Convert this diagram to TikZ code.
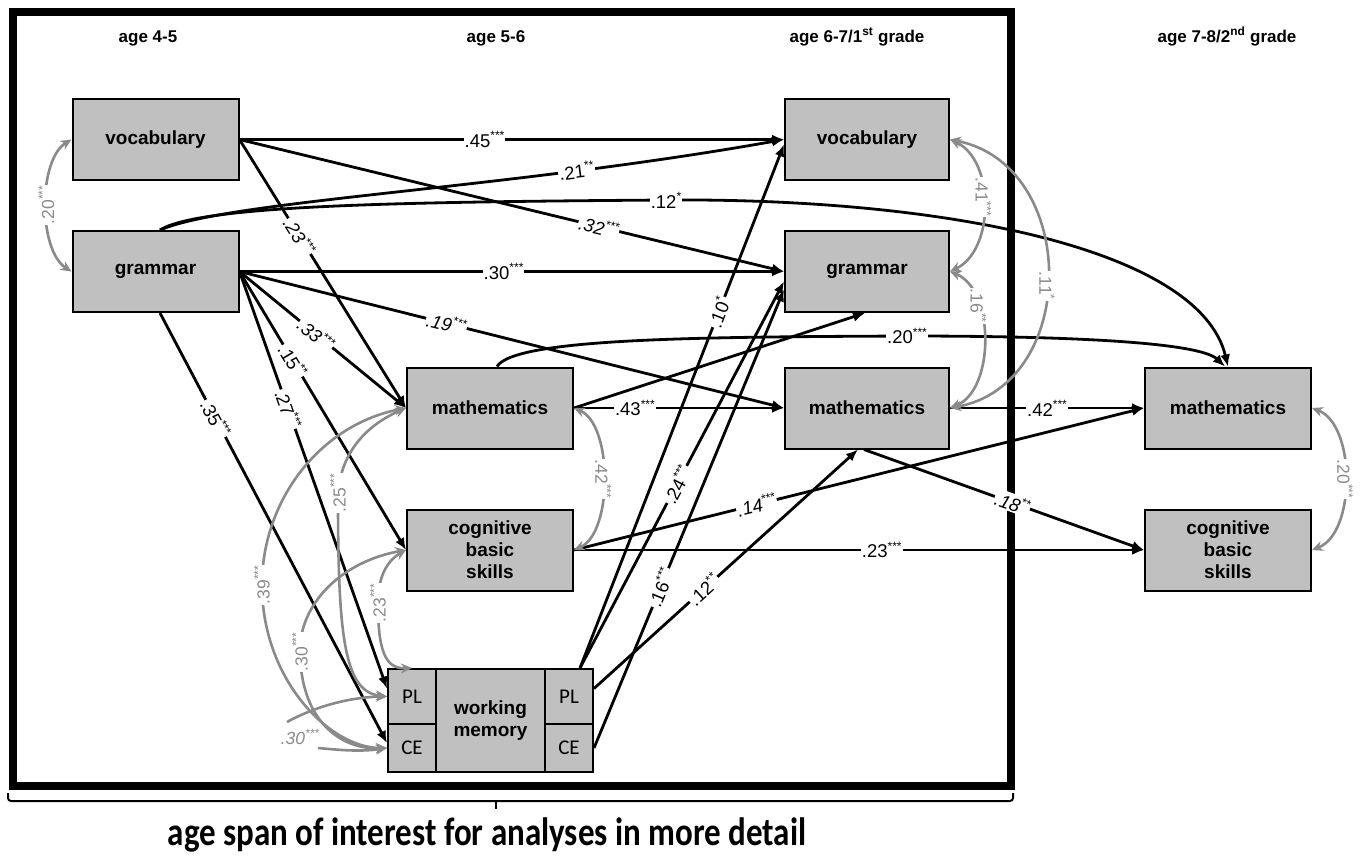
\documentclass[tikz,border=0pt]{standalone}
\usepackage{fontspec}
\setmainfont{Liberation Sans}
\newfontfamily\calfont{Carlito}
\usetikzlibrary{arrows.meta}
\definecolor{boxgray}{RGB}{192,192,192}
\definecolor{corrgray}{RGB}{138,138,138}
\newcommand\sig[1]{\raisebox{0.42em}{\fontsize{12}{12}\selectfont #1}}
\newcommand\boxfont{\fontsize{19}{22}\selectfont\bfseries}
\newcommand\hdfont{\fontsize{17}{20}\selectfont\bfseries}
\newcommand\labfont{\fontsize{18.5}{18.5}\selectfont}
\newcommand\glabfont{\fontsize{17.5}{17.5}\selectfont}
\begin{document}
\begin{tikzpicture}[x=1pt,y=-1pt,
  box/.style={draw=black, line width=2pt, fill=boxgray, minimum width=166pt, minimum height=81pt, inner sep=0pt, align=center, font=\boxfont},
  wmbox/.style={draw=black, line width=2pt, fill=boxgray, inner sep=0pt, font=\calfont\fontsize{21}{24}\selectfont},
  hd/.style={font=\hdfont, anchor=base, inner sep=0pt},
  blk/.style={draw=black, line width=2.8pt, -{Latex[length=12pt,width=10pt]}},
  gc/.style={draw=corrgray, line width=2.6pt, {Stealth[length=11pt,width=10pt]}-{Stealth[length=11pt,width=10pt]}},
  gc1/.style={draw=corrgray, line width=2.6pt, -{Stealth[length=11pt,width=10pt]}},
  lab/.style={fill=white, inner sep=1pt, font=\labfont, text=black},
  glab/.style={fill=white, inner sep=1pt, font=\glabfont, text=corrgray}]
\useasboundingbox (0,0) rectangle (1362,862);
\fill[white] (0,0) rectangle (1362,862);

% frame and brace
\draw[line width=8pt] (12.5,12) rectangle (1011,785.5);
\draw[line width=2pt, rounded corners=3pt] (8,793) -- (8,801) -- (1013,801) -- (1013,793);
\draw[line width=2pt] (496,801) -- (496,809);
\node[font=\calfont\fontsize{33}{36}\selectfont\bfseries, anchor=base] (span) at (487,845) {\scalebox{1}[1.2]{age span of interest for analyses in more detail}};

% headers
\node[hd] (h1) at (148,42) {age 4-5};
\node[hd] (h2) at (496,42) {age 5-6};
\node[hd] (h3) at (857,42) {age 6-7/1\textsuperscript{st} grade};
\node[hd] (h4) at (1227,42) {age 7-8/2\textsuperscript{nd} grade};

% boxes
\node[box] (v1) at (155.5,139.5) {vocabulary};
\node[box] (g1) at (155.5,271.5) {grammar};
\node[box] (m2) at (490,408) {mathematics};
\node[box] (c2) at (490,550) {cognitive\\basic\\skills};
\node[box, minimum width=164pt] (v3) at (867,139.5) {vocabulary};
\node[box, minimum width=164pt] (g3) at (867,271.5) {grammar};
\node[box, minimum width=164pt] (m3) at (867,408) {mathematics};
\node[box] (m4) at (1228,408) {mathematics};
\node[box] (c4) at (1228,550) {cognitive\\basic\\skills};

% working memory
\node[wmbox, minimum width=109pt, minimum height=103pt, font=\boxfont, align=center] (wm) at (490.5,720.5) {working\\memory};
\node[wmbox, minimum width=48pt, minimum height=55pt] (PLl) at (412,696.5) {PL};
\node[wmbox, minimum width=48pt, minimum height=48pt] (CEl) at (412,748) {CE};
\node[wmbox, minimum width=48pt, minimum height=55pt] (PLr) at (569,696.5) {PL};
\node[wmbox, minimum width=48pt, minimum height=48pt] (CEr) at (569,748) {CE};

% black paths from age 4-5
\draw[blk] (v1.east) -- node[lab, pos=.45] (n45) {.45\sig{***}} (v3.west);
\draw[blk] (v1.east) -- node[lab, sloped, pos=.66, font=\labfont\itshape] (n32) {.32\sig{***}} (g3.west);
\draw[blk] (v1.east) -- node[lab, sloped, pos=.36, font=\labfont\itshape] (n23a) {.23\sig{***}} (m2.west);
\draw[blk] ([xshift=4.5pt]g1.north) .. controls (230,200) and (500,190) .. (v3.west) node[lab, sloped, pos=.75] (n21) {.21\sig{**}};
\draw[blk] ([xshift=4.5pt]g1.north) .. controls (200,205) and (400,202) .. (666,200) .. controls (950,198) and (1200,250) .. (m4.north);
\node[lab] (n12a) at (666,200) {.12\sig{*}};
\draw[blk] (g1.east) -- node[lab, pos=.485] (n30) {.30\sig{***}} (g3.west);
\draw[blk] (g1.east) -- node[lab, sloped, pos=.38, font=\labfont\itshape] (n19) {.19\sig{***}} (m3.west);
\draw[blk] (g1.east) -- node[lab, sloped, pos=.46, font=\labfont\itshape] (n33) {.33\sig{***}} (m2.west);
\draw[blk] (g1.east) -- node[lab, sloped, pos=.32] (n15) {.15\sig{**}} (c2.west);
\draw[blk] (g1.east) -- node[lab, sloped, pos=.33] (n27) {.27\sig{***}} ([yshift=8pt]PLl.west);
\draw[blk] ([xshift=4.5pt]g1.south) -- node[lab, sloped, pos=.245] (n35) {.35\sig{***}} ([yshift=5pt]CEl.west);

% black paths from age 5-6
\draw[blk] (m2.east) -- ([xshift=-2pt]g3.south);
\draw[blk] ([xshift=7pt]m2.north) .. controls (515,338) and (700,337) .. (907,336) .. controls (1080,336) and (1200,343) .. ([xshift=-3pt]m4.north);
\node[lab] (n20) at (907,336) {.20\sig{***}};
\draw[blk] (m2.east) -- node[lab, pos=.29] (n43) {.43\sig{***}} (m3.west);
\draw[blk] (c2.east) -- node[lab, sloped, pos=.32, font=\labfont\itshape] (n14) {.14\sig{***}} (m4.west);
\draw[blk] (c2.east) -- node[lab, pos=.54] (n23b) {.23\sig{***}} (c4.west);
\draw[blk] ([xshift=11pt]PLr.north) -- node[lab, sloped, pos=.68] (n10) {.10\sig{*}} ([yshift=-5pt]v3.west);
\draw[blk] ([xshift=11pt]PLr.north) -- node[lab, sloped, pos=.475] (n24) {.24\sig{***}} ([yshift=-10pt]g3.west);
\draw[blk] (CEr.east) -- node[lab, sloped, pos=.35] (n16) {.16\sig{***}} ([yshift=-18pt]g3.west);
\draw[blk] ([yshift=8pt]PLr.east) -- node[lab, sloped, pos=.415] (n12b) {.12\sig{**}} ([xshift=-9pt]m3.south);

% black paths from age 6-7
\draw[blk] (m3.east) -- node[lab, pos=.5] (n42) {.42\sig{***}} (m4.west);
\draw[blk] ([xshift=-3pt]m3.south) -- node[lab, sloped, pos=.53, font=\labfont\itshape] (n18) {.18\sig{**}} (c4.west);

% grey correlations
\draw[gc] (v1.west) .. controls (38,160) and (38,250) .. (g1.west) node[glab, rotate=90, pos=.5] (k20a) {.20\sig{***}};
\draw[gc] (v3.east) .. controls (995,160) and (995,250) .. (g3.east) node[glab, rotate=-90, pos=.45] (k41) {.41\sig{***}};
\draw[gc] (g3.east) .. controls (995,290) and (995,390) .. (m3.east) node[glab, rotate=-90, pos=.3] (k16) {.16\sig{**}};
\draw[gc] (v3.east) .. controls (1080,165) and (1080,385) .. (m3.east) node[glab, rotate=-90, pos=.53] (k11) {.11\sig{*}};
\draw[gc] (m2.east) .. controls (613,425) and (613,533) .. (c2.east) node[glab, rotate=-90, pos=.5] (k42) {.42\sig{***}};
\draw[gc] (m4.east) .. controls (1356,425) and (1356,533) .. (c4.east) node[glab, rotate=-90, pos=.5] (k20b) {.20\sig{***}};
\draw[gc] (m2.west) .. controls (320,425) and (262,500) .. (262,585) .. controls (262,680) and (330,748) .. (CEl.west);
\node[glab, rotate=90] (k39) at (262,585) {.39\sig{***}};
\draw[gc] (m2.west) .. controls (360,428) and (338,460) .. (338,500) .. controls (338,640) and (345,692) .. (PLl.west);
\node[glab, rotate=90] (k25) at (338,493) {.25\sig{***}};
\draw[gc] (c2.west) .. controls (340,562) and (300,605) .. (300,650) .. controls (300,720) and (340,750) .. (CEl.west);
\node[glab, rotate=90] (k30a) at (300,652) {.30\sig{***}};
\draw[gc] (c2.west) .. controls (385,562) and (378,580) .. (378,603) .. controls (378,650) and (385,669) .. (PLl.north);
\node[glab, rotate=90] (k23) at (378,603) {.23\sig{***}};
\coordinate (c30a) at (287,722);
\coordinate (c30b) at (318,748);
\draw[gc1] (c30a) .. controls (320,704) and (355,697) .. (PLl.west);
\draw[gc1] (c30b) .. controls (340,750) and (360,752) .. (CEl.west);
\node[glab, font=\glabfont\itshape, fill=none] (k30b) at (300,737) {.30\sig{***}};
\end{tikzpicture}
\end{document}
